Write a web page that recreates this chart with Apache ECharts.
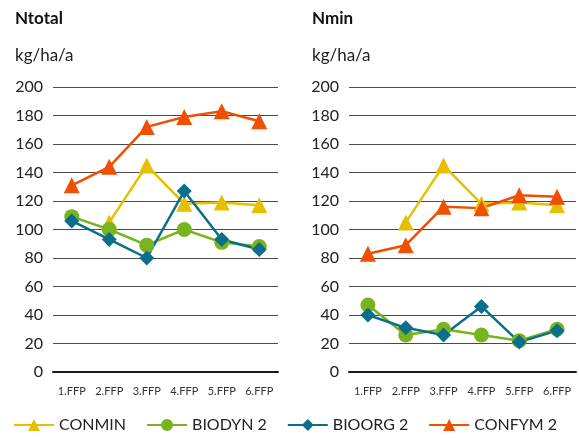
<!DOCTYPE html>
<html>
<head>
<meta charset="utf-8">
<script src="https://cdn.jsdelivr.net/npm/echarts@6/dist/echarts.min.js"></script>
<style>
  html, body { margin: 0; padding: 0; background: #fff; }
  #chart { width: 579px; height: 438px; }
</style>
</head>
<body>
<div id="chart"></div>
<script>
const categories = ['1.FFP', '2.FFP', '3.FFP', '4.FFP', '5.FFP', '6.FFP'];
const seriesNames = ['CONMIN', 'BIODYN 2', 'BIOORG 2', 'CONFYM 2'];

// Ntotal (left panel)
const ntotalConmin = [null, 105, 145, 118, 119, 117];
const ntotalBiodyn = [109, 100, 89, 100, 91, 88];
const ntotalBioorg = [106, 93, 80, 127, 93, 86];
const ntotalConfym = [131, 144, 172, 179, 183, 176];

// Nmin (right panel)
const nminConmin = [null, 105, 145, 118, 119, 117];
const nminBiodyn = [47, 26, 30, 26, 22, 30];
const nminBioorg = [40, 31, 26, 46, 21, 29];
const nminConfym = [83, 89, 116, 115, 124, 123];

const colors = ['#e6c000', '#78b41e', '#0a6e8c', '#f04f00'];
const symbols = ['triangle', 'circle', 'diamond', 'triangle'];
const symbolSizes = [16, 15, 15, 16];
const font = 'Lato, "Noto Sans", sans-serif';

const chart = echarts.init(document.getElementById('chart'));

function makeSeries(data, idx, axisIdx) {
  return {
    name: seriesNames[idx],
    type: 'line',
    xAxisIndex: axisIdx,
    yAxisIndex: axisIdx,
    data: data,
    symbol: symbols[idx],
    symbolSize: symbolSizes[idx],
    showAllSymbol: true,
    lineStyle: { color: colors[idx], width: 2.5 },
    itemStyle: { color: colors[idx] },
    animation: false
  };
}

function xAxisFor(gi) {
  return {
    type: 'category',
    gridIndex: gi,
    data: categories,
    boundaryGap: true,
    axisLine: { lineStyle: { color: '#1a1a1a', width: 2 } },
    axisTick: { show: false },
    axisLabel: { color: '#333', fontSize: 11, fontFamily: font, margin: 14, interval: 0 }
  };
}

function yAxisFor(gi) {
  return {
    type: 'value',
    gridIndex: gi,
    min: 0,
    max: 200,
    interval: 20,
    axisLine: { show: false },
    axisTick: { show: false },
    axisLabel: { color: '#222', fontSize: 16, fontFamily: font, margin: 10 },
    splitLine: { lineStyle: { color: '#4a4a4a', width: 1.2 } }
  };
}

chart.setOption({
  backgroundColor: '#fff',
  title: [
    { text: 'Ntotal', left: 10, top: 5, textStyle: { fontSize: 17, fontWeight: 'bold', color: '#111', fontFamily: font } },
    { text: 'kg/ha/a', left: 10, top: 42, textStyle: { fontSize: 17, fontWeight: 'normal', color: '#222', fontFamily: font } },
    { text: 'Nmin', left: 307, top: 5, textStyle: { fontSize: 17, fontWeight: 'bold', color: '#111', fontFamily: font } },
    { text: 'kg/ha/a', left: 307, top: 42, textStyle: { fontSize: 17, fontWeight: 'normal', color: '#222', fontFamily: font } }
  ],
  grid: [
    { left: 53, top: 87, width: 225, height: 285 },
    { left: 349, top: 87, width: 227, height: 285 }
  ],
  xAxis: [xAxisFor(0), xAxisFor(1)],
  yAxis: [yAxisFor(0), yAxisFor(1)],
  legend: {
    data: seriesNames,
    bottom: 0,
    left: 8,
    itemWidth: 40,
    itemHeight: 15,
    itemGap: 20,
    textStyle: { fontSize: 16, color: '#222', fontFamily: font }
  },
  series: [
    makeSeries(ntotalConmin, 0, 0),
    makeSeries(ntotalBiodyn, 1, 0),
    makeSeries(ntotalBioorg, 2, 0),
    makeSeries(ntotalConfym, 3, 0),
    makeSeries(nminConmin, 0, 1),
    makeSeries(nminBiodyn, 1, 1),
    makeSeries(nminBioorg, 2, 1),
    makeSeries(nminConfym, 3, 1)
  ]
});
</script>
</body>
</html>
